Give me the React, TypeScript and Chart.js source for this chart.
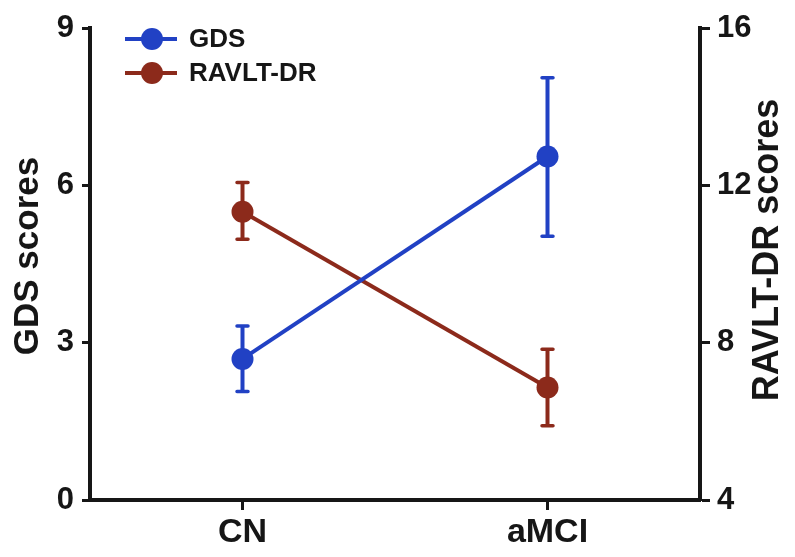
import React, { useEffect, useRef } from 'react';
import { Chart, registerables } from 'chart.js';

Chart.register(...registerables);

const categories = ['CN', 'aMCI'];
const seriesNames = ['GDS', 'RAVLT-DR'];
const axisTitles = ['GDS scores', 'RAVLT-DR scores'];
const gdsMean = [2.69, 6.55];
const gdsLow = [2.07, 5.03];
const gdsHigh = [3.32, 8.05];
const ravltMean = [11.33, 6.86];
const ravltLow = [10.63, 5.89];
const ravltHigh = [12.07, 7.83];
const gdsTicks = [0, 3, 6, 9];
const ravltTicks = [4, 8, 12, 16];

const BLUE = '#2141c4';
const BROWN = '#8c2a1b';
const INK = '#161616';
const FONT = "'Liberation Sans', Arial, Helvetica, sans-serif";

const errorBars = [
  { axis: 'y', low: gdsLow, high: gdsHigh, color: BLUE },
  { axis: 'y2', low: ravltLow, high: ravltHigh, color: BROWN },
];

const decorPlugin = {
  id: 'decor',
  beforeDatasetsDraw(chart: any) {
    const ctx = chart.ctx;
    const xs = chart.scales.x;
    ctx.save();
    errorBars.forEach((eb) => {
      const ys = chart.scales[eb.axis];
      categories.forEach((_, i) => {
        const x = xs.getPixelForValue(i);
        const yl = ys.getPixelForValue(eb.low[i]);
        const yh = ys.getPixelForValue(eb.high[i]);
        ctx.strokeStyle = eb.color;
        ctx.lineWidth = 4;
        ctx.lineCap = 'butt';
        ctx.beginPath();
        ctx.moveTo(x, yl);
        ctx.lineTo(x, yh);
        ctx.stroke();
        ctx.lineWidth = 3.5;
        ctx.lineCap = 'round';
        ctx.beginPath();
        ctx.moveTo(x - 5.5, yl);
        ctx.lineTo(x + 5.5, yl);
        ctx.moveTo(x - 5.5, yh);
        ctx.lineTo(x + 5.5, yh);
        ctx.stroke();
      });
    });
    ctx.restore();
  },
  afterDraw(chart: any) {
    const ctx = chart.ctx;
    ctx.save();
    // axis titles, both reading bottom-to-top
    ctx.fillStyle = INK;
    ctx.font = `bold 35px ${FONT}`;
    ctx.textAlign = 'center';
    ctx.textBaseline = 'middle';
    ctx.save();
    ctx.translate(28, 256);
    ctx.rotate(-Math.PI / 2);
    ctx.fillText(axisTitles[0], 0, 0);
    ctx.restore();
    ctx.font = `bold 36px ${FONT}`;
    ctx.save();
    ctx.translate(768, 250);
    ctx.rotate(-Math.PI / 2);
    ctx.fillText(axisTitles[1], 0, 0);
    ctx.restore();
    // legend
    const colors = [BLUE, BROWN];
    seriesNames.forEach((name, i) => {
      const y = 39 + i * 34;
      ctx.strokeStyle = colors[i];
      ctx.lineWidth = 4;
      ctx.lineCap = 'butt';
      ctx.beginPath();
      ctx.moveTo(125, y);
      ctx.lineTo(177, y);
      ctx.stroke();
      ctx.fillStyle = colors[i];
      ctx.beginPath();
      ctx.arc(152, y, 11, 0, Math.PI * 2);
      ctx.fill();
      ctx.fillStyle = INK;
      ctx.font = `bold 26px ${FONT}`;
      ctx.textAlign = 'left';
      ctx.textBaseline = 'middle';
      ctx.fillText(name, 189, y + 1);
    });
    ctx.restore();
  },
};

const whiteBg = {
  id: 'whiteBg',
  beforeDraw(chart: any) {
    const ctx = chart.ctx;
    ctx.save();
    ctx.fillStyle = '#ffffff';
    ctx.fillRect(0, 0, chart.width, chart.height);
    ctx.restore();
  },
};

export default function App() {
  const ref = useRef<HTMLCanvasElement | null>(null);
  useEffect(() => {
    if (!ref.current) return;
    const chart = new Chart(ref.current, {
      type: 'line',
      data: {
        labels: categories,
        datasets: [
          {
            label: seriesNames[0],
            data: gdsMean,
            yAxisID: 'y',
            borderColor: BLUE,
            backgroundColor: BLUE,
            borderWidth: 4,
            pointRadius: 11,
            pointBorderWidth: 0,
            tension: 0,
          },
          {
            label: seriesNames[1],
            data: ravltMean,
            yAxisID: 'y2',
            borderColor: BROWN,
            backgroundColor: BROWN,
            borderWidth: 4,
            pointRadius: 11,
            pointBorderWidth: 0,
            tension: 0,
          },
        ],
      },
      options: {
        animation: false,
        responsive: true,
        maintainAspectRatio: false,
        layout: { padding: { top: 28, left: 0, right: 0, bottom: 0 } },
        plugins: { legend: { display: false }, tooltip: { enabled: false } },
        scales: {
          x: {
            type: 'category',
            offset: true,
            grid: {
              display: true,
              drawOnChartArea: false,
              drawTicks: true,
              tickLength: 10,
              tickWidth: 3,
              tickColor: INK,
              offset: false,
            },
            border: { display: true, width: 4, color: INK },
            ticks: { color: INK, padding: 2, font: { family: FONT, size: 34, weight: 'bold' } },
            afterFit: (s: any) => {
              s.height = 57;
            },
          },
          y: {
            position: 'left',
            min: 0,
            max: 9,
            afterBuildTicks: (s: any) => {
              s.ticks = gdsTicks.map((v) => ({ value: v }));
            },
            grid: {
              display: true,
              drawOnChartArea: false,
              drawTicks: true,
              tickLength: 8,
              tickWidth: 3,
              tickColor: INK,
            },
            border: { display: true, width: 4, color: INK },
            ticks: { color: INK, padding: 8, font: { family: FONT, size: 31, weight: 'bold' } },
            afterFit: (s: any) => {
              s.width = 90;
            },
          },
          y2: {
            position: 'right',
            min: 4,
            max: 16,
            afterBuildTicks: (s: any) => {
              s.ticks = ravltTicks.map((v) => ({ value: v }));
            },
            grid: {
              display: true,
              drawOnChartArea: false,
              drawTicks: true,
              tickLength: 10,
              tickWidth: 3,
              tickColor: INK,
            },
            border: { display: true, width: 4, color: INK },
            ticks: { color: INK, padding: 7, font: { family: FONT, size: 31, weight: 'bold' } },
            afterFit: (s: any) => {
              s.width = 95;
            },
          },
        },
      },
      plugins: [whiteBg, decorPlugin],
    });
    return () => chart.destroy();
  }, []);
  return (
    <div style={{ position: 'absolute', left: 0, top: 0, width: 795, height: 557 }}>
      <canvas ref={ref} />
    </div>
  );
}
